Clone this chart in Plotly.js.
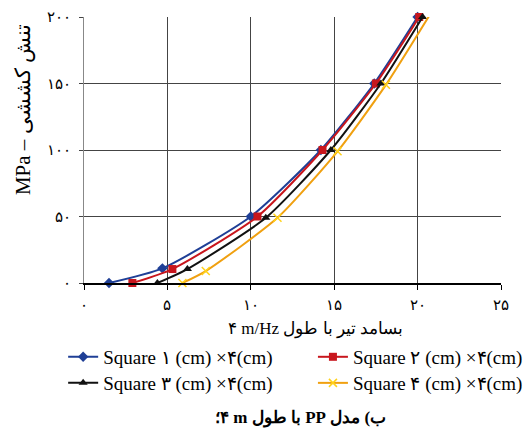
<!DOCTYPE html>
<html>
<head>
<meta charset="utf-8">
<script src="https://cdn.plot.ly/plotly-3.0.1.min.js"></script>
<style>html,body{margin:0;padding:0;background:#fff;}#chart{width:526px;height:430px;}</style>
</head>
<body>
<div id="chart"></div>
<script>
// Data
const x1 = [1.5, 4.7, 10.0, 14.2, 17.4, 20.0];
const y1 = [0, 11, 50, 100, 150, 200];
const x2 = [2.9, 5.3, 10.4, 14.3, 17.5, 20.1];
const y2 = [0, 10.5, 50, 100, 150, 200];
const x3 = [4.4, 6.2, 10.9, 14.8, 17.8, 20.3];
const y3 = [0, 10.5, 49, 100, 150, 200];
const x4 = [5.9, 7.3, 11.6, 15.2, 18.1, 20.7];
const y4 = [0, 9, 49, 99, 149, 201];

const seriesNames = [
  'Square ۱ (cm) ×۴(cm)',
  'Square ۲ (cm) ×۴(cm)',
  'Square ۳ (cm) ×۴(cm)',
  'Square ۴ (cm) ×۴(cm)'
];
const xTickVals = [0, 5, 10, 15, 20, 25];
const xTickText = ['۰', '۵', '۱۰', '۱۵', '۲۰', '۲۵'];
const yTickVals = [0, 50, 100, 150, 200];
const yTickText = ['۰', '۵۰', '۱۰۰', '۱۵۰', '۲۰۰'];

const xTitle = '۴ m/Hz بسامد تیر با طول';
const yTitle = 'MPa – تنش کششی';
const caption = '\u202Bب) مدل PP با طول m \u200F۴؛\u202C';

const serif = 'Liberation Serif, DejaVu Serif, serif';

function tr(x, y, name, color, symbol, msize, legend, mcolor) {
  return {
    x: x, y: y, name: name, type: 'scatter', mode: 'lines+markers', legend: legend,
    line: {color: color, width: 2, shape: 'spline', smoothing: 0.6},
    marker: {symbol: symbol, size: msize, color: mcolor || color,
             line: {width: symbol === 'x-thin' ? 1.5 : 0, color: mcolor || color}},
    cliponaxis: false
  };
}

const data = [
  tr(x1, y1, seriesNames[0], '#1f3f96', 'diamond', 8, 'legend'),
  tr(x2, y2, seriesNames[1], '#c8161d', 'square', 8, 'legend2'),
  tr(x3, y3, seriesNames[2], '#111111', 'triangle-up', 8, 'legend3'),
  tr(x4, y4, seriesNames[3], '#f0a010', 'x-thin', 8, 'legend4', '#ffd21a')
];

function leg(x, y) {
  return {
    orientation: 'v', x: x, xanchor: 'left', y: y, yanchor: 'middle',
    font: {family: serif, size: 19, color: '#000'},
    itemwidth: 30, bgcolor: 'rgba(0,0,0,0)', borderwidth: 0
  };
}

const layout = {
  width: 526, height: 430,
  margin: {l: 84, r: 25, t: 17, b: 147, autoexpand: false},
  paper_bgcolor: '#fff', plot_bgcolor: '#fff',
  font: {family: serif, color: '#000'},
  showlegend: true,
  legend: leg(-0.050, -0.278),
  legend2: leg(0.549, -0.278),
  legend3: leg(-0.050, -0.376),
  legend4: leg(0.549, -0.376),
  xaxis: {
    range: [0, 25], tickvals: xTickVals, ticktext: xTickText,
    showgrid: true, gridcolor: '#444', gridwidth: 1,
    showline: true, linecolor: '#000', linewidth: 1.5,
    ticks: 'outside', ticklen: 5, tickcolor: '#000',
    tickfont: {family: serif, size: 15, color: '#000'},
    ticklabelstandoff: 2,
    zeroline: false, fixedrange: true
  },
  yaxis: {
    range: [0, 200], tickvals: yTickVals, ticktext: yTickText,
    showgrid: true, gridcolor: '#444', gridwidth: 1,
    showline: true, linecolor: '#888', linewidth: 1,
    ticks: 'outside', ticklen: 4, tickcolor: '#444',
    tickfont: {family: serif, size: 15, color: '#000'},
    ticklabelstandoff: 5,
    zeroline: false, fixedrange: true
  },
  annotations: [
    {text: xTitle, xref: 'paper', yref: 'paper', x: 0.554, y: -0.173,
     xanchor: 'center', yanchor: 'middle', showarrow: false,
     font: {family: serif, size: 17, color: '#000'}},
    {text: yTitle, xref: 'paper', yref: 'paper', x: -0.145, y: 0.652,
     xanchor: 'center', yanchor: 'middle', showarrow: false, textangle: -90,
     font: {family: serif, size: 21, color: '#000'}},
    {text: '<b>' + caption + '</b>', xref: 'paper', yref: 'paper', x: 0.518, y: -0.508,
     xanchor: 'center', yanchor: 'middle', showarrow: false,
     font: {family: serif, size: 17, color: '#000'}}
  ]
};

Plotly.newPlot('chart', data, layout, {displayModeBar: false, staticPlot: true});
</script>
</body>
</html>
